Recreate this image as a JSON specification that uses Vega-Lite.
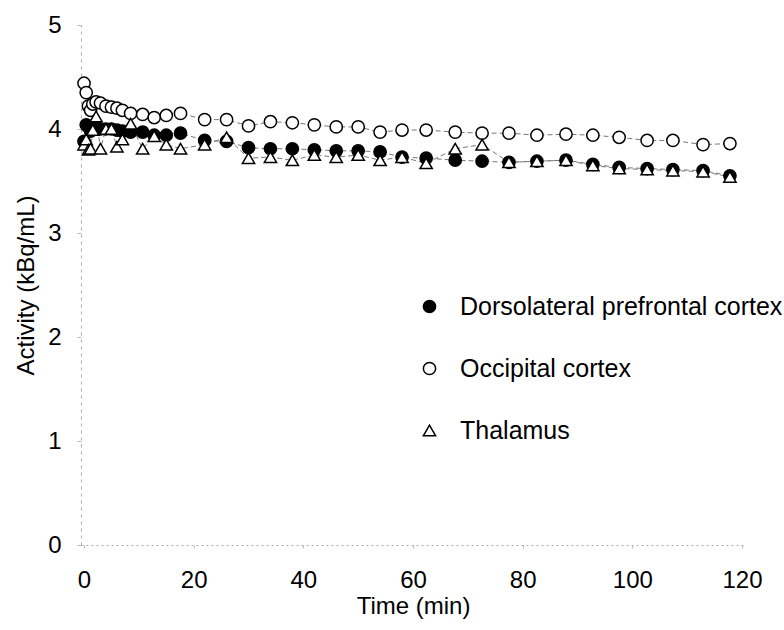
{
  "$schema": "https://vega.github.io/schema/vega-lite/v6.json",
  "width": 664,
  "height": 520,
  "autosize": "none",
  "padding": {"left": 81, "top": 25, "right": 39, "bottom": 85},
  "config": {"view": {"stroke": null}, "font": "Liberation Sans"},
  "datasets": {
    "tac": [
      {"region": "Occipital cortex", "time": 0, "activity": 4.44},
      {"region": "Occipital cortex", "time": 0.4, "activity": 4.35},
      {"region": "Occipital cortex", "time": 0.8, "activity": 4.22},
      {"region": "Occipital cortex", "time": 1.2, "activity": 4.18},
      {"region": "Occipital cortex", "time": 1.6, "activity": 4.24},
      {"region": "Occipital cortex", "time": 2.2, "activity": 4.26},
      {"region": "Occipital cortex", "time": 3, "activity": 4.25},
      {"region": "Occipital cortex", "time": 4, "activity": 4.22},
      {"region": "Occipital cortex", "time": 5, "activity": 4.21},
      {"region": "Occipital cortex", "time": 6, "activity": 4.2},
      {"region": "Occipital cortex", "time": 7, "activity": 4.18},
      {"region": "Occipital cortex", "time": 8.5, "activity": 4.15},
      {"region": "Occipital cortex", "time": 10.7, "activity": 4.14},
      {"region": "Occipital cortex", "time": 12.8, "activity": 4.11},
      {"region": "Occipital cortex", "time": 15, "activity": 4.13},
      {"region": "Occipital cortex", "time": 17.6, "activity": 4.15},
      {"region": "Occipital cortex", "time": 22, "activity": 4.09},
      {"region": "Occipital cortex", "time": 26, "activity": 4.09},
      {"region": "Occipital cortex", "time": 30, "activity": 4.03},
      {"region": "Occipital cortex", "time": 34, "activity": 4.07},
      {"region": "Occipital cortex", "time": 38, "activity": 4.06},
      {"region": "Occipital cortex", "time": 42, "activity": 4.04},
      {"region": "Occipital cortex", "time": 46, "activity": 4.02},
      {"region": "Occipital cortex", "time": 50, "activity": 4.02},
      {"region": "Occipital cortex", "time": 54, "activity": 3.97},
      {"region": "Occipital cortex", "time": 58, "activity": 3.99},
      {"region": "Occipital cortex", "time": 62.4, "activity": 3.99},
      {"region": "Occipital cortex", "time": 67.7, "activity": 3.97},
      {"region": "Occipital cortex", "time": 72.6, "activity": 3.96},
      {"region": "Occipital cortex", "time": 77.5, "activity": 3.96},
      {"region": "Occipital cortex", "time": 82.6, "activity": 3.94},
      {"region": "Occipital cortex", "time": 87.9, "activity": 3.95},
      {"region": "Occipital cortex", "time": 92.8, "activity": 3.94},
      {"region": "Occipital cortex", "time": 97.6, "activity": 3.92},
      {"region": "Occipital cortex", "time": 102.7, "activity": 3.89},
      {"region": "Occipital cortex", "time": 107.4, "activity": 3.89},
      {"region": "Occipital cortex", "time": 112.9, "activity": 3.85},
      {"region": "Occipital cortex", "time": 117.8, "activity": 3.86},
      {"region": "Dorsolateral prefrontal cortex", "time": 0, "activity": 3.88},
      {"region": "Dorsolateral prefrontal cortex", "time": 0.4, "activity": 4.04},
      {"region": "Dorsolateral prefrontal cortex", "time": 0.8, "activity": 4.02},
      {"region": "Dorsolateral prefrontal cortex", "time": 1.2, "activity": 3.98},
      {"region": "Dorsolateral prefrontal cortex", "time": 1.6, "activity": 4.0},
      {"region": "Dorsolateral prefrontal cortex", "time": 2.2, "activity": 4.02},
      {"region": "Dorsolateral prefrontal cortex", "time": 3, "activity": 4.0},
      {"region": "Dorsolateral prefrontal cortex", "time": 4, "activity": 4.0},
      {"region": "Dorsolateral prefrontal cortex", "time": 5, "activity": 4.0},
      {"region": "Dorsolateral prefrontal cortex", "time": 6, "activity": 3.99},
      {"region": "Dorsolateral prefrontal cortex", "time": 7, "activity": 3.98},
      {"region": "Dorsolateral prefrontal cortex", "time": 8.5, "activity": 3.97},
      {"region": "Dorsolateral prefrontal cortex", "time": 10.7, "activity": 3.97},
      {"region": "Dorsolateral prefrontal cortex", "time": 12.8, "activity": 3.94},
      {"region": "Dorsolateral prefrontal cortex", "time": 15, "activity": 3.94},
      {"region": "Dorsolateral prefrontal cortex", "time": 17.6, "activity": 3.96},
      {"region": "Dorsolateral prefrontal cortex", "time": 22, "activity": 3.89},
      {"region": "Dorsolateral prefrontal cortex", "time": 26, "activity": 3.88},
      {"region": "Dorsolateral prefrontal cortex", "time": 30, "activity": 3.82},
      {"region": "Dorsolateral prefrontal cortex", "time": 34, "activity": 3.81},
      {"region": "Dorsolateral prefrontal cortex", "time": 38, "activity": 3.81},
      {"region": "Dorsolateral prefrontal cortex", "time": 42, "activity": 3.8},
      {"region": "Dorsolateral prefrontal cortex", "time": 46, "activity": 3.79},
      {"region": "Dorsolateral prefrontal cortex", "time": 50, "activity": 3.79},
      {"region": "Dorsolateral prefrontal cortex", "time": 54, "activity": 3.78},
      {"region": "Dorsolateral prefrontal cortex", "time": 58, "activity": 3.73},
      {"region": "Dorsolateral prefrontal cortex", "time": 62.4, "activity": 3.72},
      {"region": "Dorsolateral prefrontal cortex", "time": 67.7, "activity": 3.7},
      {"region": "Dorsolateral prefrontal cortex", "time": 72.6, "activity": 3.69},
      {"region": "Dorsolateral prefrontal cortex", "time": 77.5, "activity": 3.68},
      {"region": "Dorsolateral prefrontal cortex", "time": 82.6, "activity": 3.69},
      {"region": "Dorsolateral prefrontal cortex", "time": 87.9, "activity": 3.7},
      {"region": "Dorsolateral prefrontal cortex", "time": 92.8, "activity": 3.66},
      {"region": "Dorsolateral prefrontal cortex", "time": 97.6, "activity": 3.63},
      {"region": "Dorsolateral prefrontal cortex", "time": 102.7, "activity": 3.62},
      {"region": "Dorsolateral prefrontal cortex", "time": 107.4, "activity": 3.61},
      {"region": "Dorsolateral prefrontal cortex", "time": 112.9, "activity": 3.6},
      {"region": "Dorsolateral prefrontal cortex", "time": 117.8, "activity": 3.55},
      {"region": "Thalamus", "time": 0, "activity": 3.85},
      {"region": "Thalamus", "time": 0.4, "activity": 3.9},
      {"region": "Thalamus", "time": 0.8, "activity": 3.8},
      {"region": "Thalamus", "time": 1.2, "activity": 3.81},
      {"region": "Thalamus", "time": 1.6, "activity": 3.99},
      {"region": "Thalamus", "time": 2.2, "activity": 4.12},
      {"region": "Thalamus", "time": 3, "activity": 3.81},
      {"region": "Thalamus", "time": 4, "activity": 4.0},
      {"region": "Thalamus", "time": 5, "activity": 4.0},
      {"region": "Thalamus", "time": 6, "activity": 3.83},
      {"region": "Thalamus", "time": 7, "activity": 3.9},
      {"region": "Thalamus", "time": 8.5, "activity": 4.05},
      {"region": "Thalamus", "time": 10.7, "activity": 3.81},
      {"region": "Thalamus", "time": 12.8, "activity": 3.93},
      {"region": "Thalamus", "time": 15, "activity": 3.85},
      {"region": "Thalamus", "time": 17.6, "activity": 3.81},
      {"region": "Thalamus", "time": 22, "activity": 3.85},
      {"region": "Thalamus", "time": 26, "activity": 3.92},
      {"region": "Thalamus", "time": 30, "activity": 3.72},
      {"region": "Thalamus", "time": 34, "activity": 3.73},
      {"region": "Thalamus", "time": 38, "activity": 3.7},
      {"region": "Thalamus", "time": 42, "activity": 3.75},
      {"region": "Thalamus", "time": 46, "activity": 3.73},
      {"region": "Thalamus", "time": 50, "activity": 3.75},
      {"region": "Thalamus", "time": 54, "activity": 3.7},
      {"region": "Thalamus", "time": 58, "activity": 3.73},
      {"region": "Thalamus", "time": 62.4, "activity": 3.67},
      {"region": "Thalamus", "time": 67.7, "activity": 3.81},
      {"region": "Thalamus", "time": 72.6, "activity": 3.85},
      {"region": "Thalamus", "time": 77.5, "activity": 3.68},
      {"region": "Thalamus", "time": 82.6, "activity": 3.69},
      {"region": "Thalamus", "time": 87.9, "activity": 3.7},
      {"region": "Thalamus", "time": 92.8, "activity": 3.65},
      {"region": "Thalamus", "time": 97.6, "activity": 3.62},
      {"region": "Thalamus", "time": 102.7, "activity": 3.61},
      {"region": "Thalamus", "time": 107.4, "activity": 3.6},
      {"region": "Thalamus", "time": 112.9, "activity": 3.59},
      {"region": "Thalamus", "time": 117.8, "activity": 3.54}
    ]
  },
  "data": {"name": "tac"},
  "encoding": {
    "x": {
      "field": "time", "type": "quantitative",
      "scale": {"domain": [-0.55, 120.55], "nice": false, "zero": false},
      "axis": {
        "values": [0, 20, 40, 60, 80, 100, 120],
        "title": "Time (min)", "grid": false,
        "domainColor": "#aaa", "domainDash": [2, 3], "domainWidth": 1,
        "tickColor": "#bbb", "tickSize": 3,
        "labelFontSize": 24, "labelColor": "#000", "labelPadding": 20,
        "titleFontSize": 24, "titleFontWeight": "normal", "titleColor": "#000", "titlePadding": 2
      }
    },
    "y": {
      "field": "activity", "type": "quantitative",
      "scale": {"domain": [0, 5], "nice": false},
      "axis": {
        "values": [0, 1, 2, 3, 4, 5],
        "title": "Activity (kBq/mL)", "grid": false,
        "domainColor": "#aaa", "domainDash": [3, 4], "domainWidth": 1,
        "tickColor": "#bbb", "tickSize": 4,
        "labelFontSize": 24, "labelColor": "#000", "labelPadding": 16,
        "titleFontSize": 24, "titleFontWeight": "normal", "titleColor": "#000", "titlePadding": 9
      }
    }
  },
  "layer": [
    {
      "mark": {"type": "line", "color": "#777", "strokeWidth": 1, "strokeDash": [5, 3]},
      "encoding": {"detail": {"field": "region"}, "order": {"field": "time"}}
    },
    {
      "mark": {"type": "point", "filled": true, "strokeWidth": 1.5, "size": 150, "opacity": 1},
      "encoding": {
        "shape": {
          "field": "region", "type": "nominal",
          "scale": {"domain": ["Dorsolateral prefrontal cortex", "Occipital cortex", "Thalamus"], "range": ["circle", "circle", "triangle-up"]},
          "legend": {
            "title": null, "orient": "none", "legendX": 336, "legendY": 269,
            "labelFontSize": 25, "labelColor": "#000", "labelOffset": 18, "rowPadding": 36, "labelLimit": 500,
            "symbolSize": 150, "symbolStrokeWidth": 1.5
          }
        },
        "fill": {
          "field": "region", "type": "nominal",
          "scale": {"domain": ["Dorsolateral prefrontal cortex", "Occipital cortex", "Thalamus"], "range": ["#000", "#fff", "#fff"]},
          "legend": {
            "title": null, "orient": "none", "legendX": 336, "legendY": 269,
            "labelFontSize": 25, "labelColor": "#000", "labelOffset": 18, "rowPadding": 36, "labelLimit": 500,
            "symbolSize": 150, "symbolStrokeWidth": 1.5
          }
        },
        "stroke": {
          "field": "region", "type": "nominal",
          "scale": {"domain": ["Dorsolateral prefrontal cortex", "Occipital cortex", "Thalamus"], "range": ["#000", "#000", "#000"]},
          "legend": {
            "title": null, "orient": "none", "legendX": 336, "legendY": 269,
            "labelFontSize": 25, "labelColor": "#000", "labelOffset": 18, "rowPadding": 36, "labelLimit": 500,
            "symbolSize": 150, "symbolStrokeWidth": 1.5
          }
        }
      }
    }
  ]
}
